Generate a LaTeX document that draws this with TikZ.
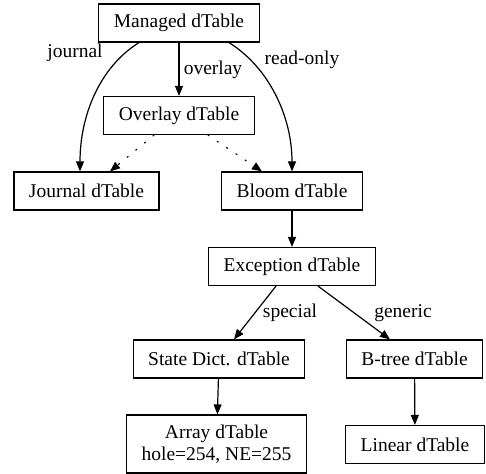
\documentclass[tikz,border=0pt]{standalone}
\usepackage{fontspec}
\setmainfont{Liberation Serif}
\usetikzlibrary{arrows.meta}

\begin{document}
\begin{tikzpicture}[x=1pt, y=1pt,
    table/.style={draw, line width=1.2pt, inner xsep=15pt, minimum height=38pt, font=\fontsize{19.5}{22}\selectfont, align=center},
    lbl/.style={font=\fontsize{19.5}{22}\selectfont},
    edge/.style={line width=1.2pt, -{Triangle[length=10pt,width=8pt]}},
    weak/.style={edge, dash pattern=on 1.2pt off 10pt, line cap=round}]
    \useasboundingbox (0,0) rectangle (486,473);

    % --- Nodes ---
    \node[table] (mng) at (179,450) {Managed dTable};
    \node[table] (ovl) at (179,357.5) {Overlay dTable};
    \node[table] (jrn) at (86.5,282) {Journal dTable};
    \node[table] (blm) at (292,282) {Bloom dTable};
    \node[table] (exc) at (292,206.5) {Exception dTable};
    \node[table] (sdt) at (219,114) {State Dict. dTable};
    \node[table] (btr) at (414.5,114) {B-tree dTable};
    \node[table, minimum height=58pt] (arr) at (216.5,29) {Array dTable\\hole=254, NE=255};
    \node[table] (lin) at (415,28.5) {Linear dTable};

    % --- Edges from Managed dTable ---
    \draw[edge] ([xshift=-40pt]mng.south) .. controls +(-40,-25) and +(0,55) .. ([xshift=-6.5pt]jrn.north);
    \draw[edge] (mng) -- (ovl);
    \draw[edge] ([xshift=50pt]mng.south) .. controls +(40,-25) and +(0,55) .. (blm.north);
    \node[lbl] (ljrn) at (75,420) {journal};
    \node[lbl] (lovl) at (213,403) {overlay};
    \node[lbl] (lblm) at (302,413) {read-only};

    % Overlay falls back to the lower tables
    \draw[weak] ([xshift=-25pt]ovl.south) -- ([xshift=23.5pt]jrn.north);
    \draw[weak] ([xshift=29pt]ovl.south) -- ([xshift=-30pt]blm.north);

    % --- Lower chain ---
    \draw[edge] (blm) -- (exc);
    \draw[edge] ([xshift=-16pt]exc.south) -- ([xshift=15pt]sdt.north);
    \draw[edge] ([xshift=26pt]exc.south) -- ([xshift=-24.5pt]btr.north);
    \node[lbl] (lsdt) at (290,160) {special};
    \node[lbl] (lbtr) at (403,160) {generic};
    \draw[edge] (sdt) -- (arr);
    \draw[edge] (btr) -- (lin);
\end{tikzpicture}
\end{document}
